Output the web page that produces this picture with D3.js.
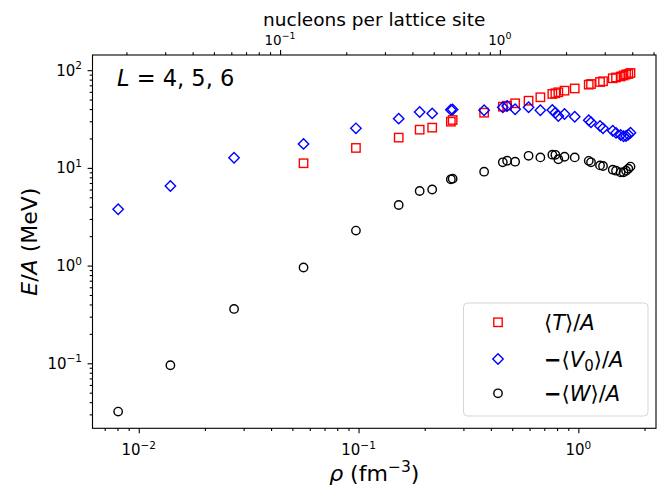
<!DOCTYPE html>
<html>
<head>
<meta charset="utf-8">
<script src="https://cdn.jsdelivr.net/npm/d3@7"></script>
<style>
  body { margin: 0; background: #fff; }
  text { font-family: "DejaVu Sans", sans-serif; fill: #000; }
</style>
</head>
<body>
<script>
var width = 662,
    height = 489;

// density in fm^-3, one entry per lattice calculation
var rho = [0.00806, 0.01393, 0.02714, 0.0562, 0.0973, 0.1523, 0.1897, 0.2163, 0.263,
           0.268, 0.3727, 0.4533, 0.4742, 0.5157, 0.5937, 0.6718, 0.7615, 0.786, 0.811,
           0.8654, 0.963, 1.115, 1.142, 1.255, 1.295, 1.434, 1.484, 1.558, 1.606,
           1.648, 1.688, 1.727];

// <T>/A (no value for the three lowest densities)
var kinetic = [null, null, null, 11.15, 16.0, 20.4, 24.6, 25.8, 29.7,
               30.9, 36.7, 42.3, 43.3, 45.8, 48.7, 52.8, 57.1, 58.0, 59.4,
               61.7, 65.0, 71.1, 72.2, 75.7, 77.0, 82.6, 84.2, 86.2, 88.2,
               90.4, 91.4, 93.6];

// -<V0>/A
var potV0 = [3.77, 6.53, 12.7, 17.6, 25.4, 31.9, 37.3, 36.1, 39.4,
             39.6, 38.9, 41.7, 43.0, 39.8, 41.7, 38.9, 39.1, 36.7, 34.0,
             35.6, 33.4, 30.7, 29.3, 26.8, 25.4, 24.0, 22.8, 21.7, 21.1,
             21.2, 21.9, 22.9];

// -<W>/A
var potW = [0.032, 0.0954, 0.36, 0.956, 2.28, 4.17, 5.80, 6.01, 7.64,
            7.75, 9.14, 11.4, 11.85, 11.57, 13.3, 12.8, 13.65, 13.6, 12.25,
            13.0, 12.8, 11.8, 11.4, 10.6, 10.45, 9.58, 9.36, 9.01, 9.0,
            9.36, 9.81, 10.3];

var xTicks = [0.01, 0.1, 1];
var yTicks = [0.1, 1, 10, 100];
var topTicks = [0.1, 1];

var siteVolume = 2.275; // lattice cell volume a^3 in fm^3

var plot = {left: 92.5, right: 656, top: 55, bottom: 428.3};

var x = d3.scaleLog()
    .domain([0.00616, 2.256])
    .range([plot.left, plot.right]);

var y = d3.scaleLog()
    .domain([0.0216, 143])
    .range([plot.bottom, plot.top]);

var xTop = d3.scaleLog()
    .domain(x.domain().map(function(d) { return d * siteVolume; }))
    .range([plot.left, plot.right]);

var svg = d3.select("body").append("svg")
    .attr("width", width)
    .attr("height", height);

function minorTicks(scale) {
  var dom = scale.domain(), out = [];
  for (var e = -4; e <= 3; e++) {
    for (var k = 2; k <= 9; k++) {
      var v = k * Math.pow(10, e);
      if (v >= dom[0] && v <= dom[1]) out.push(v);
    }
  }
  return out;
}

function drawTicks(axisFn, scale, major, transform) {
  var gMaj = svg.append("g").attr("transform", transform)
      .call(axisFn(scale).tickValues(major).tickSize(4.9).tickFormat(""));
  var gMin = svg.append("g").attr("transform", transform)
      .call(axisFn(scale).tickValues(minorTicks(scale)).tickSize(2.8).tickFormat(""));
  [gMaj, gMin].forEach(function(g) {
    g.select(".domain").remove();
    g.selectAll("line").attr("stroke", "#000").attr("stroke-width", 1.1);
  });
}

drawTicks(d3.axisBottom, x, xTicks, "translate(0," + plot.bottom + ")");
drawTicks(d3.axisLeft, y, yTicks, "translate(" + plot.left + ",0)");
drawTicks(d3.axisTop, xTop, topTicks, "translate(0," + plot.top + ")");

function expText(v) {
  var e = Math.round(Math.log10(v));
  return (e < 0 ? "\u2212" : "") + Math.abs(e);
}

function powLabel(g, px, py, v, size, anchor) {
  var t = g.append("text")
      .attr("x", px).attr("y", py)
      .attr("text-anchor", anchor)
      .style("font-size", size + "px");
  t.append("tspan").text("10");
  t.append("tspan")
      .attr("dy", -0.42 * size)
      .style("font-size", (size * 0.7) + "px")
      .text(expText(v));
}

var labels = svg.append("g");
xTicks.forEach(function(v) { powLabel(labels, x(v), 455, v, 15, "middle"); });
yTicks.forEach(function(v) { powLabel(labels, 82, y(v) + 5.5, v, 15, "end"); });
topTicks.forEach(function(v) { powLabel(labels, xTop(v), 45, v, 13.5, "middle"); });

// frame
svg.append("rect")
    .attr("x", plot.left).attr("y", plot.top)
    .attr("width", plot.right - plot.left)
    .attr("height", plot.bottom - plot.top)
    .attr("fill", "none")
    .attr("stroke", "#000")
    .attr("stroke-width", 1.1);

// axis titles
svg.append("text")
    .attr("x", (plot.left + plot.right) / 2).attr("y", 26)
    .attr("text-anchor", "middle")
    .style("font-size", "18.5px")
    .text("nucleons per lattice site");

var xl = svg.append("text")
    .attr("x", (plot.left + plot.right) / 2).attr("y", 481)
    .attr("text-anchor", "middle")
    .style("font-size", "22px");
xl.append("tspan").style("font-style", "italic").text("\u03c1");
xl.append("tspan").text(" (fm");
xl.append("tspan").attr("dy", -9).style("font-size", "15.5px").text("\u22123");
xl.append("tspan").attr("dy", 9).text(")");

var yl = svg.append("text")
    .attr("transform", "translate(37," + ((plot.top + plot.bottom) / 2) + ") rotate(-90)")
    .attr("text-anchor", "middle")
    .style("font-size", "22px");
yl.append("tspan").style("font-style", "italic").text("E");
yl.append("tspan").text("/");
yl.append("tspan").style("font-style", "italic").text("A");
yl.append("tspan").text(" (MeV)");

// markers
var symbols = {
  square: function(g, cx, cy) {
    g.append("rect").attr("x", cx - 4.2).attr("y", cy - 4.2)
      .attr("width", 8.4).attr("height", 8.4);
  },
  diamond: function(g, cx, cy) {
    var r = 5.2;
    g.append("path").attr("d", "M" + cx + "," + (cy - r) + "L" + (cx + r) + "," + cy +
      "L" + cx + "," + (cy + r) + "L" + (cx - r) + "," + cy + "Z");
  },
  circle: function(g, cx, cy) {
    g.append("circle").attr("cx", cx).attr("cy", cy).attr("r", 4.2);
  }
};

var series = [
  {values: kinetic, color: "#ff0000", shape: "square"},
  {values: potV0, color: "#0000ff", shape: "diamond"},
  {values: potW, color: "#000000", shape: "circle"}
];

series.forEach(function(s) {
  var g = svg.append("g")
      .attr("fill", "none")
      .attr("stroke", s.color)
      .attr("stroke-width", 1.4);
  rho.forEach(function(r, i) {
    if (s.values[i] == null) return;
    symbols[s.shape](g, x(r), y(s.values[i]));
  });
});

// L label
var lt = svg.append("text")
    .attr("x", 117).attr("y", 86)
    .style("font-size", "22.5px");
lt.append("tspan").style("font-style", "italic").text("L");
lt.append("tspan").text(" = 4, 5, 6");

// legend
var legend = svg.append("g");
legend.append("rect")
    .attr("x", 463.5).attr("y", 303)
    .attr("width", 184.5).attr("height", 113)
    .attr("rx", 4).attr("ry", 4)
    .attr("fill", "#fff").attr("fill-opacity", 0.8)
    .attr("stroke", "#d6d6d6").attr("stroke-width", 1);

var rows = [322.3, 359, 393.3];
series.forEach(function(s, i) {
  var g = legend.append("g")
      .attr("fill", "none")
      .attr("stroke", s.color)
      .attr("stroke-width", 1.4);
  symbols[s.shape](g, 498, rows[i]);
});

function legendText(py, parts) {
  var t = legend.append("text").attr("x", 544).attr("y", py).style("font-size", "21px");
  parts.forEach(function(p) {
    var ts = t.append("tspan").text(p[0]);
    if (p[1] === "i") ts.style("font-style", "italic");
    if (p[1] === "sub") ts.attr("dy", 4.5).style("font-size", "15px");
    if (p[1] === "up") ts.attr("dy", -4.5);
    if (p[1] === "b") ts.style("font-weight", "bold");
  });
}
legendText(rows[0] + 7.5, [["\u27e8"], ["T", "i"], ["\u27e9/"], ["A", "i"]]);
legendText(rows[1] + 7.5, [["\u2212", "b"], ["\u27e8"], ["V", "i"], ["0", "sub"], ["\u27e9/", "up"], ["A", "i"]]);
legendText(rows[2] + 7.5, [["\u2212", "b"], ["\u27e8"], ["W", "i"], ["\u27e9/"], ["A", "i"]]);
</script>
</body>
</html>
